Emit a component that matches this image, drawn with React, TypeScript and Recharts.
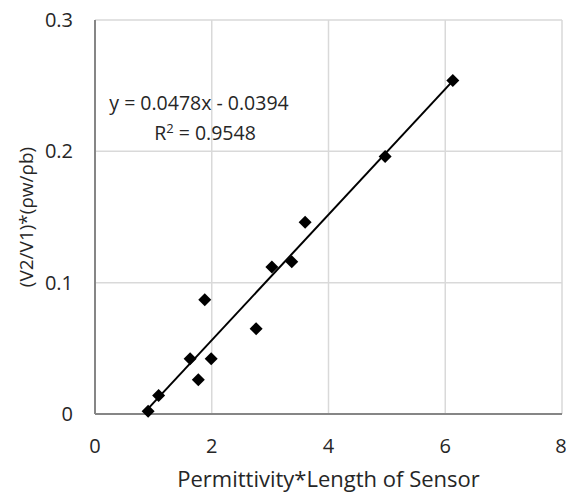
import { ScatterChart, Scatter, XAxis, YAxis, CartesianGrid, Customized } from 'recharts'

const permLength = [0.91, 1.09, 1.63, 1.77, 1.88, 1.99, 2.76, 3.03, 3.37, 3.6, 4.97, 6.13]
const voltageRatio = [0.002, 0.014, 0.042, 0.026, 0.087, 0.042, 0.065, 0.112, 0.116, 0.146, 0.196, 0.254]
const xTicks = [0, 2, 4, 6, 8]
const yTicks = [0, 0.1, 0.2, 0.3]
const slope = 0.0478
const intercept = -0.0394

const points = permLength.map((x, i) => ({ x, y: voltageRatio[i] }))
const xMin = Math.min(...permLength)
const xMax = Math.max(...permLength)
const trend = [xMin, xMax].map((x) => ({ x, y: slope * x + intercept }))

const FONT = '"Open Sans", sans-serif'
const TEXT = '#262626'

const Diamond = (props: any) => {
  const { cx, cy } = props
  const r = 6.5
  return <polygon points={`${cx},${cy - r} ${cx + r},${cy} ${cx},${cy + r} ${cx - r},${cy}`} fill="#000" />
}

const Equation = () => (
  <g fontFamily={FONT} fontSize={19.5} fill={TEXT} textAnchor="middle">
    <text x={199} y={110}>y = 0.0478x - 0.0394</text>
    <text x={205} y={140}>
      R<tspan dy={-7} fontSize={13}>2</tspan>
      <tspan dy={7}> = 0.9548</tspan>
    </text>
  </g>
)

export default function App() {
  return (
    <div style={{ position: 'absolute', left: 0, top: 0, background: '#fff' }}>
      <ScatterChart width={566} height={493} margin={{ top: 20, right: 4, left: 0, bottom: 0 }}>
        <CartesianGrid stroke="#d9d9d9" strokeWidth={1.5} />
        <XAxis
          type="number"
          dataKey="x"
          domain={[0, 8]}
          ticks={xTicks}
          height={79}
          tickLine={false}
          tickSize={0}
          tickMargin={25}
          axisLine={{ stroke: '#868686', strokeWidth: 2 }}
          tick={{ fill: TEXT, fontSize: 20, fontFamily: FONT }}
          label={{
            value: 'Permittivity*Length of Sensor',
            position: 'insideBottom',
            offset: 6,
            style: { fill: TEXT, fontSize: 22, fontFamily: FONT },
          }}
        />
        <YAxis
          type="number"
          dataKey="y"
          domain={[0, 0.3]}
          ticks={yTicks}
          width={95}
          tickLine={false}
          tickSize={0}
          tickMargin={22}
          axisLine={{ stroke: '#868686', strokeWidth: 2 }}
          tick={{ fill: TEXT, fontSize: 20, fontFamily: FONT }}
          label={{
            value: '(V2/V1)*(ρw/ρb)',
            angle: -90,
            position: 'insideLeft',
            offset: 26,
            style: { fill: TEXT, fontSize: 19, fontFamily: FONT, textAnchor: 'middle' },
          }}
        />
        <Scatter data={trend} line={{ stroke: '#000', strokeWidth: 2 }} shape={() => <g />} isAnimationActive={false} />
        <Scatter data={points} shape={Diamond} isAnimationActive={false} />
        <Customized component={Equation} />
      </ScatterChart>
    </div>
  )
}
